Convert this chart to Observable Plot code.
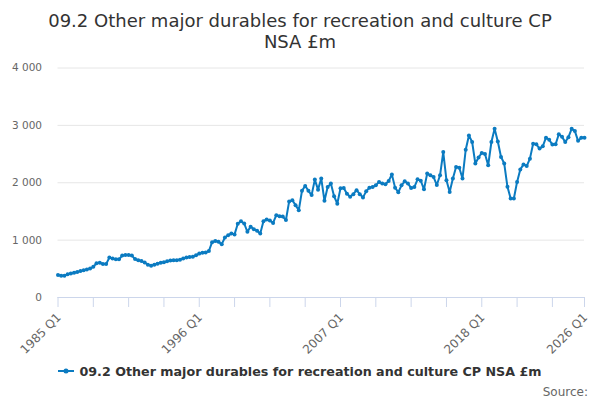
<!DOCTYPE html>
<html><head><meta charset="utf-8">
<script src="https://cdn.jsdelivr.net/npm/d3@7"></script>
<script src="https://cdn.jsdelivr.net/npm/@observablehq/plot@0.6"></script>
<style>
body{margin:0;background:#fff;font-family:"DejaVu Sans",sans-serif;}
#wrap{width:600px;height:400px;position:relative;overflow:hidden;}
#title{height:52px;box-sizing:border-box;padding-top:10px;text-align:center;font-size:18px;line-height:21px;color:#333;}
#chart{height:305px;}
#legend{height:28px;display:flex;justify-content:center;align-items:center;font-size:12.7px;font-weight:bold;color:#333;}
#source{text-align:right;padding-right:12px;font-size:12px;line-height:14px;color:#666;}
</style></head><body>
<div id="wrap">
<div id="title">09.2 Other major durables for recreation and culture CP<br>NSA £m</div>
<div id="chart"></div>
<div id="legend"><svg width="16" height="10" style="overflow:visible"><line x1="0" x2="16" y1="5" y2="5" stroke="#0b7bc1" stroke-width="2"/><circle cx="8" cy="5" r="2.5" fill="#0b7bc1"/></svg><span id="legendText" style="margin-left:5px"></span></div>
<div id="source">Source:</div>
</div>
<script>
const seriesName = "09.2 Other major durables for recreation and culture CP NSA £m";
const startYear = 1985;
const values = [
  390,380,380,405,420,430,445,460,475,490,505,535,595,605,585,585,
  695,680,665,665,730,740,740,730,670,650,635,610,570,555,570,590,
  605,615,630,645,650,650,660,680,695,705,710,735,765,780,785,810,
  965,985,970,930,1045,1085,1115,1100,1285,1330,1290,1145,1235,1190,1165,1115,
  1330,1360,1340,1300,1435,1415,1410,1350,1675,1695,1610,1520,1860,1945,1860,1785,
  2055,1880,2075,1685,1925,1985,1765,1635,1905,1910,1810,1755,1800,1870,1800,1745,
  1850,1915,1925,1955,2015,1985,1975,2030,2145,1915,1835,1955,2025,1985,1910,1925,
  2060,2035,1885,2160,2130,2100,1960,2130,2535,2045,1840,2075,2275,2260,2075,2575,
  2825,2710,2335,2440,2520,2500,2305,2710,2940,2720,2450,2335,1930,1725,1725,2015,
  2230,2320,2290,2420,2680,2670,2595,2635,2785,2750,2665,2670,2845,2800,2710,2795,
  2940,2900,2730,2785,2785
];
const yTicks = [0, 1000, 2000, 3000, 4000];
const xTickLabels = ["1985 Q1", "1996 Q1", "2007 Q1", "2018 Q1", "2026 Q1"];
const color = "#0b7bc1";

document.getElementById("legendText").textContent = seriesName;

const quarterLabel = i => `${startYear + Math.floor(i / 4)} Q${(i % 4) + 1}`;
const data = values.map((v, i) => ({i, v, q: quarterLabel(i)}));
const last = values.length - 1;
const tickIdx = d3.range(0, last, 11).concat([last]);
const labelIdx = data.filter(d => xTickLabels.includes(d.q)).map(d => d.i);

const chart = Plot.plot({
  width: 600, height: 305,
  marginTop: 15.5, marginBottom: 60, marginLeft: 57.5, marginRight: 16,
  style: {fontFamily: "DejaVu Sans, sans-serif", fontSize: "10.5px", color: "#666", background: "#fff"},
  x: {domain: [0, last], axis: null},
  y: {domain: [0, 4000], axis: null},
  marks: [
    Plot.gridY(yTicks, {stroke: "#e6e6e6", strokeOpacity: 1}),
    Plot.axisY(yTicks, {label: null, tickSize: 0, tickPadding: 16, fontSize: 10.5, fill: "#666",
      tickFormat: d => d3.format(",")(d).replace(/,/g, " ")}),
    Plot.ruleY([0], {stroke: "#ccd6eb", strokeWidth: 1}),
    Plot.axisX(tickIdx, {label: null, tickSize: 10, stroke: "#ccd6eb", strokeOpacity: 1, tickFormat: () => ""}),
    Plot.axisX(labelIdx, {label: null, tickSize: 0, tickRotate: -45, tickPadding: 18, dx: 1, fontSize: 12, fill: "#666",
      tickFormat: i => quarterLabel(i)}),
    Plot.line(data, {x: "i", y: "v", stroke: color, strokeWidth: 2}),
    Plot.dot(data, {x: "i", y: "v", r: 2, fill: color})
  ]
});
document.getElementById("chart").appendChild(chart);
</script>
</body></html>
